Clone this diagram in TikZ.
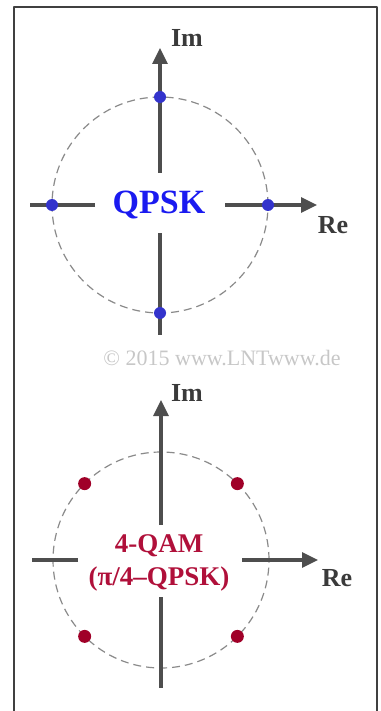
\documentclass[tikz,border=0pt]{standalone}
\usepackage{fontspec}
\setmainfont{Liberation Serif}
\usetikzlibrary{arrows.meta}
\definecolor{axisgray}{HTML}{4E4E4E}
\definecolor{ringgray}{HTML}{8A8A8A}
\definecolor{framegray}{HTML}{404040}
\definecolor{labgray}{HTML}{3A3A3A}
\definecolor{qblue}{HTML}{3333CC}
\definecolor{qtextblue}{HTML}{1A1AF0}
\definecolor{qred}{HTML}{A00028}
\definecolor{qtextred}{HTML}{B0103A}
\begin{document}
\begin{tikzpicture}[x=0.5pt,y=0.5pt, line join=round,
	axis/.style={draw=axisgray, line width=1.6pt},
	axarrow/.style={axis, -{Triangle[length=8pt,width=7.5pt]}},
	ring/.style={draw=ringgray, line width=0.6pt, dash pattern=on 4pt off 2.5pt},
	qdot/.style={circle, fill=qblue, inner sep=0pt, minimum size=6pt},
	adot/.style={circle, fill=qred, inner sep=0pt, minimum size=6.5pt},
	axlabel/.style={font=\fontsize{13}{15}\selectfont\bfseries, text=labgray}]
	\useasboundingbox (0,0) rectangle (380,-711);
	\draw[line width=1pt, draw=framegray] (14,-712) -- (14,-7) -- (377,-7) -- (377,-712);
	% QPSK
	\begin{scope}[shift={(160,-205)}]
		\draw[ring] (0,0) circle (108);
		\node[font=\fontsize{17}{19}\selectfont\bfseries, text=qtextblue] (qpsk) at (-1,0) {QPSK};
		\coordinate (qimtop) at (0,157); \coordinate (qimin) at (0,32);
		\coordinate (qimbot) at (0,-130); \coordinate (qimlow) at (0,-28);
		\coordinate (qreright) at (157,0); \coordinate (qrein) at (65,0);
		\coordinate (qreleft) at (-130,0); \coordinate (qrelow) at (-65,0);
		\draw[axarrow] (qimin) -- (qimtop);
		\draw[axis] (qimlow) -- (qimbot);
		\draw[axarrow] (qrein) -- (qreright);
		\draw[axis] (qrelow) -- (qreleft);
		\node[axlabel] (qim) at (27,167) {Im};
		\node[axlabel] (qre) at (173,-20) {Re};
		\foreach \a/\n in {0/a,90/b,180/c,270/d} \node[qdot] (q\n) at (\a:108) {};
	\end{scope}
	\node[font=\fontsize{11}{12}\selectfont, text=black!22] (copy) at (222,-358) {© 2015 www.LNTwww.de};
	% 4-QAM
	\begin{scope}[shift={(161,-560)}]
		\draw[ring] (0,0) circle (108);
		\node[font=\fontsize{13.5}{16.5}\selectfont\bfseries, text=qtextred, align=center] (qam) at (-2,-3) {4-QAM\\(π/4–QPSK)};
		\coordinate (aimtop) at (0,160); \coordinate (aimin) at (0,35);
		\coordinate (aimbot) at (0,-128); \coordinate (aimlow) at (0,-37);
		\coordinate (areright) at (157,0); \coordinate (arein) at (81,0);
		\coordinate (areleft) at (-129,0); \coordinate (arelow) at (-83,0);
		\draw[axarrow] (aimin) -- (aimtop);
		\draw[axis] (aimlow) -- (aimbot);
		\draw[axarrow] (arein) -- (areright);
		\draw[axis] (arelow) -- (areleft);
		\node[axlabel] (aim) at (26,167) {Im};
		\node[axlabel] (are) at (176,-18) {Re};
		\foreach \a/\n in {45/a,135/b,225/c,315/d} \node[adot] (a\n) at (\a:108) {};
	\end{scope}
\end{tikzpicture}
\end{document}
